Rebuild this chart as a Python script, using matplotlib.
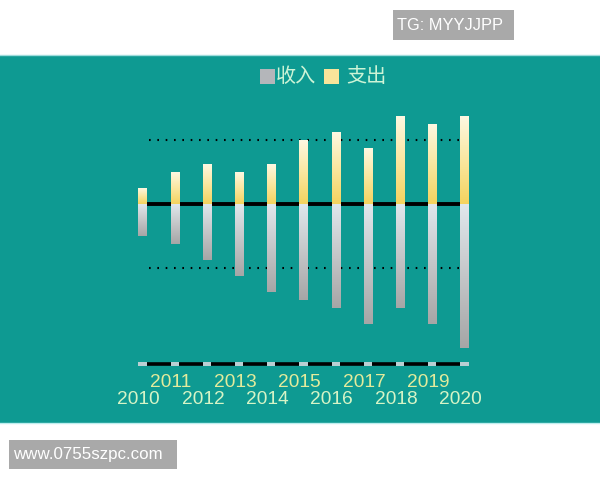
import numpy as np
import matplotlib
matplotlib.use("Agg")
import matplotlib.pyplot as plt
from matplotlib.colors import LinearSegmentedColormap
from matplotlib.patches import Rectangle

# data
years = ['2010', '2011', '2012', '2013', '2014', '2015', '2016', '2017', '2018', '2019', '2020']
income = [4, 5, 7, 9, 11, 12, 13, 15, 13, 15, 18]      # drawn downward
expense = [2, 4, 5, 4, 5, 8, 9, 7, 11, 10, 11]        # drawn upward
grid_levels = [8, -8]
axis_level = -20

teal = '#0e9a92'
bar_w = 0.25

fig = plt.figure(figsize=(6, 4.8), dpi=100)
fig.patch.set_facecolor('white')

# teal panel behind the chart
fig.patches.append(Rectangle((0, 57 / 480), 1, 368 / 480, transform=fig.transFigure,
                             facecolor=teal, edgecolor='none', zorder=-2))
fig.add_artist(plt.Line2D([0, 1], [425 / 480, 425 / 480], transform=fig.transFigure,
                          color='#9fdcdc', lw=1, zorder=-1))
fig.add_artist(plt.Line2D([0, 1], [57 / 480, 57 / 480], transform=fig.transFigure,
                          color='#bfeeee', lw=1, zorder=-1))

ax = fig.add_axes([94.2 / 600, (480 - 396) / 480, 418.6 / 600, 304 / 480])
ax.set_facecolor('none')
ax.axis('off')

x = np.arange(len(years))

# gradient colour maps
cm_exp = LinearSegmentedColormap.from_list('exp', ['#f4d35e', '#fae7a0', '#fdf8e2'])
cm_inc = LinearSegmentedColormap.from_list('inc', ['#a6a6a6', '#c4c6c8', '#e0e7ec'])
grad = np.linspace(0, 1, 256).reshape(-1, 1)

# zero line and dotted grid lines (behind bars)
ax.plot([0, 10], [0, 0], color='black', lw=2.8, zorder=1, solid_capstyle='butt')
for g in grid_levels:
    ax.plot([0.2, 10], [g, g], color='black', lw=1.5, linestyle=(0, (0.8, 3.2)), zorder=1)

for xi, inc, ex in zip(x, income, expense):
    ax.imshow(grad, extent=[xi - bar_w / 2, xi + bar_w / 2, 0, ex], origin='lower',
              cmap=cm_exp, aspect='auto', zorder=2)
    ax.imshow(grad, extent=[xi - bar_w / 2, xi + bar_w / 2, -inc, 0], origin='lower',
              cmap=cm_inc, aspect='auto', zorder=2)

ax.set_xlim(-1.5, 11.5)
ax.set_ylim(-24, 14)

# bottom category axis
ax.plot([0, 10], [axis_level, axis_level], color='black', lw=2.6, zorder=1,
        solid_capstyle='butt')
ax.bar(x, 0.4, width=bar_w, bottom=axis_level - 0.2, color='#b9cfd3', zorder=2)

for i, (xi, yr) in enumerate(zip(x, years)):
    if i % 2:
        ax.text(xi - 0.12, -22.35, yr, ha='center', va='center', fontsize=13.8,
                color='#e3eb9c', family='Liberation Sans', clip_on=False)
    else:
        ax.text(xi - 0.12, -24.5, yr, ha='center', va='center', fontsize=13.8,
                color='#d6f4c6', family='Liberation Sans', clip_on=False)

# legend drawn by hand
def fig_xy(px, py):
    return px / 600, 1 - py / 480

fig.patches.append(Rectangle(fig_xy(260, 84), 15 / 600, 15 / 480, transform=fig.transFigure,
                             facecolor='#b4b6ba', edgecolor='none', zorder=3))
fig.text(*fig_xy(276, 76), '收入', fontsize=14.5, color='#cdf4d6', va='center',
         family=['Noto Sans CJK SC', 'DejaVu Sans'])
fig.patches.append(Rectangle(fig_xy(324, 84), 15 / 600, 15 / 480, transform=fig.transFigure,
                             facecolor='#f8e49a', edgecolor='none', zorder=3))
fig.text(*fig_xy(346, 76), '支出', fontsize=14.5, color='#cdf4d6', va='center',
         family=['Noto Sans CJK SC', 'DejaVu Sans'])

# watermark boxes
fig.patches.append(Rectangle(fig_xy(393, 40), 121 / 600, 30 / 480, transform=fig.transFigure,
                             facecolor='#a9a9a9', edgecolor='none'))
fig.text(*fig_xy(397, 25), 'TG: MYYJJPP', fontsize=11.8, color='white', va='center',
         family='Liberation Sans')
fig.patches.append(Rectangle(fig_xy(9, 469), 168 / 600, 29 / 480, transform=fig.transFigure,
                             facecolor='#a9a9a9', edgecolor='none'))
fig.text(*fig_xy(13, 454), 'www.0755szpc.com', fontsize=12.2, color='white', va='center',
         family='Liberation Sans')

fig.savefig('out.png', dpi=100)
